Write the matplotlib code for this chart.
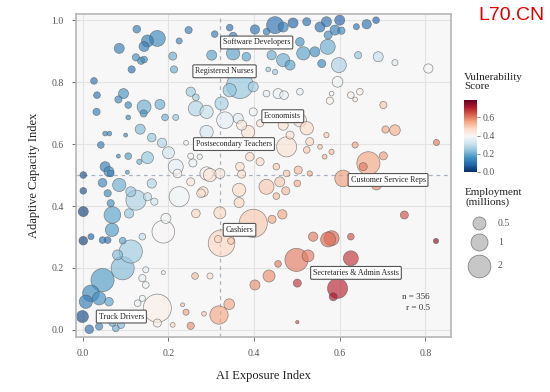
import matplotlib
matplotlib.use("Agg")
import matplotlib.pyplot as plt
import numpy as np

plt.rcParams['font.family'] = ['Liberation Serif', 'DejaVu Serif']

# AI exposure, adaptive capacity, employment (millions), vulnerability score
exposure = [
    0.126, 0.247, 0.174, 0.151, 0.143, 0.085, 0.225, 0.210, 0.124, 0.136, 0.143, 0.114, 0.213,
    0.026, 0.033, 0.095, 0.083, 0.106, 0.143, 0.142, 0.180, 0.032, 0.106, 0.192, 0.217, 0.252,
    0.264, 0.264, 0.052, 0.062, 0.100, 0.134, 0.161, 0.185, 0.042, 0.083, 0.106, 0.151, 0.132,
    0.200, 0.052, 0.065, 0.104, 0.001, 0.217, 0.252, 0.273, 0.241, 0.257,
    0.308, 0.343, 0.351, 0.402, 0.449, 0.491, 0.523, 0.554, 0.468, 0.429, 0.507, 0.301, 0.351,
    0.382, 0.441, 0.468, 0.484, 0.515, 0.542, 0.558, 0.433, 0.449, 0.367, 0.343, 0.398, 0.429,
    0.456, 0.470, 0.507, 0.324, 0.289, 0.332, 0.363, 0.398, 0.289, 0.371, 0.386, 0.414, 0.468,
    0.507, 0.523, 0.484, 0.476, 0.530, 0.523, 0.554, 0.565, 0.390, 0.414, 0.367, 0.320, 0.289,
    0.452, 0.503, 0.530, 0.476,
    0.600, 0.569, 0.589, 0.573, 0.604, 0.639, 0.663, 0.685, 0.572, 0.643, 0.690, 0.729, 0.807,
    0.598, 0.595, 0.581, 0.577, 0.626, 0.636, 0.647, 0.702, 0.707, 0.729, 0.826, 0.636, 0.569,
    0.581, 0.667, 0.702, 0.655, 0.608,
    0.001, 0.001, 0.001, 0.019, 0.046, 0.058, 0.061, 0.085, 0.046, 0.058, 0.065, 0.069, 0.068,
    0.108, 0.124, 0.112, 0.151, 0.167, 0.161, 0.093, 0.112, 0.139, 0.081, 0.093, 0.046, 0.019,
    0.038, 0.007, 0.061, -0.001, 0.015, 0.038, 0.077, 0.089, 0.069, 0.147, 0.139, 0.147, 0.128,
    0.139, 0.120, 0.174, 0.174, 0.188, 0.210, 0.233, 0.241, 0.252, 0.262, 0.225, 0.188, 0.194,
    0.264, 0.276, 0.252, 0.221,
    0.297, 0.281, 0.365, 0.365, 0.371, 0.429, 0.460, 0.474, 0.452, 0.501, 0.320, 0.398, 0.442,
    0.466, 0.324, 0.316, 0.346, 0.538, 0.573, 0.499, 0.526, 0.456, 0.435, 0.402, 0.501, 0.297,
    0.342, 0.318, 0.283, 0.501,
    0.686, 0.751, 0.825, 0.581, 0.626, 0.626, 0.595, 0.585,
]
capacity = [
    0.971, 0.968, 0.941, 0.933, 0.915, 0.909, 0.933, 0.884, 0.880, 0.869, 0.873, 0.841, 0.841,
    0.804, 0.758, 0.763, 0.744, 0.726, 0.720, 0.699, 0.728, 0.704, 0.686, 0.686, 0.686, 0.769,
    0.751, 0.715, 0.634, 0.634, 0.629, 0.648, 0.621, 0.604, 0.597, 0.561, 0.561, 0.556, 0.543,
    0.572, 0.527, 0.505, 0.509, 0.500, 0.527, 0.561, 0.559, 0.604, 0.539,
    0.955, 0.976, 0.948, 0.970, 0.984, 0.991, 0.995, 0.978, 0.978, 0.963, 0.930, 0.887, 0.893,
    0.882, 0.887, 0.871, 0.855, 0.893, 0.898, 0.860, 0.841, 0.833, 0.790, 0.774, 0.785, 0.763,
    0.763, 0.758, 0.769, 0.731, 0.704, 0.677, 0.683, 0.704, 0.639, 0.661, 0.639, 0.667, 0.661,
    0.677, 0.651, 0.629, 0.591, 0.608, 0.581, 0.591, 0.559, 0.559, 0.543, 0.527, 0.505, 0.505,
    0.527, 0.516, 0.505, 0.505,
    1.000, 0.995, 0.968, 0.952, 0.966, 0.979, 0.987, 1.000, 0.914, 0.887, 0.882, 0.863, 0.844,
    0.855, 0.801, 0.763, 0.740, 0.758, 0.744, 0.769, 0.726, 0.647, 0.645, 0.605, 0.597, 0.629,
    0.575, 0.538, 0.562, 0.527, 0.489,
    0.449, 0.382, 0.288, 0.301, 0.290, 0.290, 0.511, 0.468, 0.475, 0.441, 0.409, 0.371, 0.323,
    0.376, 0.419, 0.446, 0.430, 0.414, 0.473, 0.288, 0.253, 0.301, 0.242, 0.199, 0.161, 0.118,
    0.102, 0.091, 0.091, 0.043, 0.002, 0.011, 0.005, 0.016, 0.022, 0.194, 0.167, 0.145, 0.086,
    0.102, 0.054, 0.070, 0.022, 0.185, 0.016, 0.081, 0.057, 0.013, 0.174, 0.430, 0.317, 0.360,
    0.376, 0.441, 0.478, 0.505,
    0.500, 0.446, 0.452, 0.411, 0.503, 0.462, 0.478, 0.449, 0.432, 0.473, 0.378, 0.344, 0.357,
    0.373, 0.280, 0.293, 0.287, 0.301, 0.292, 0.226, 0.239, 0.213, 0.174, 0.145, 0.151, 0.174,
    0.083, 0.048, 0.052, 0.025,
    0.468, 0.371, 0.287, 0.296, 0.301, 0.231, 0.134, 0.107,
]
employment = [
    0.10, 0.08, 0.85, 0.40, 0.24, 0.24, 0.04, 0.12, 0.08, 0.08, 0.06, 0.08, 0.08,
    0.06, 0.06, 0.24, 0.08, 0.06, 0.60, 0.08, 0.24, 0.08, 0.01, 0.06, 0.04, 0.19,
    0.06, 0.73, 0.01, 0.01, 0.002, 0.24, 0.15, 0.19, 0.06, 0.002, 0.06, 0.40, 0.02,
    0.40, 0.24, 0.06, 0.002, 0.06, 0.73, 0.04, 0.02, 0.01, 0.12,
    0.06, 0.06, 0.12, 0.19, 1.00, 0.24, 0.12, 0.24, 0.24, 0.06, 0.15, 0.24, 0.53,
    0.15, 0.19, 0.53, 0.24, 0.53, 0.24, 0.12, 0.01, 0.02, 2.90, 0.53, 0.24, 0.06,
    0.24, 0.15, 0.06, 0.53, 0.53, 0.95, 0.24, 0.12, 0.53, 0.24, 0.53, 0.08, 0.24,
    0.53, 0.53, 0.12, 1.50, 0.12, 0.06, 0.01, 0.01, 0.15, 0.12, 0.15, 0.24, 0.53,
    0.06, 0.12, 0.02, 0.06,
    0.24, 0.24, 0.24, 0.12, 0.08, 0.04, 0.19, 0.06, 0.73, 0.08, 0.24, 0.04, 0.19,
    0.73, 0.29, 0.01, 0.08, 0.06, 0.01, 0.06, 0.08, 0.08, 0.29, 0.04, 0.04, 0.02,
    0.02, 2.10, 0.12, 0.12, 0.95,
    0.06, 0.24, 0.15, 0.04, 0.06, 0.06, 0.24, 0.53, 0.15, 0.08, 0.08, 0.95, 0.53,
    0.19, 1.50, 0.24, 0.12, 0.08, 0.19, 0.06, 2.10, 0.06, 0.24, 2.10, 2.10, 0.95,
    0.53, 0.53, 0.15, 0.40, 0.15, 0.08, 0.06, 0.08, 0.06, 0.04, 0.08, 0.06, 0.06,
    0.04, 0.02, 3.30, 0.12, 0.002, 0.01, 0.002, 0.04, 0.08, 0.06, 1.50, 2.00, 0.24,
    0.15, 0.15, 0.12, 0.15,
    0.53, 0.24, 0.53, 0.24, 0.12, 0.73, 0.24, 0.12, 0.06, 0.06, 0.40, 3.30, 0.12,
    0.19, 2.90, 0.08, 0.06, 0.19, 0.73, 2.10, 0.40, 0.06, 0.40, 0.24, 0.12, 0.04,
    0.29, 1.20, 0.01, 0.00,
    0.24, 0.12, 0.02, 0.73, 0.06, 0.73, 1.50, 0.12,
]
vulnerability = [
    0.12, 0.12, 0.14, 0.12, 0.12, 0.12, 0.13, 0.20, 0.15, 0.15, 0.14, 0.10, 0.20,
    0.10, 0.10, 0.16, 0.14, 0.14, 0.20, 0.15, 0.20, 0.12, 0.14, 0.20, 0.24, 0.25,
    0.25, 0.28, 0.14, 0.14, 0.14, 0.22, 0.24, 0.28, 0.12, 0.14, 0.17, 0.24, 0.20,
    0.32, 0.12, 0.13, 0.17, 0.05, 0.36, 0.38, 0.38, 0.38, 0.37,
    0.12, 0.10, 0.12, 0.10, 0.10, 0.08, 0.10, 0.10, 0.12, 0.12, 0.16, 0.18, 0.18,
    0.18, 0.20, 0.20, 0.18, 0.18, 0.15, 0.14, 0.25, 0.25, 0.24, 0.24, 0.26, 0.36,
    0.37, 0.37, 0.36, 0.26, 0.30, 0.36, 0.35, 0.38, 0.33, 0.44, 0.45, 0.44, 0.45,
    0.45, 0.47, 0.46, 0.45, 0.48, 0.50, 0.50, 0.52, 0.47, 0.47, 0.46, 0.44, 0.40,
    0.50, 0.52, 0.54, 0.50,
    0.08, 0.10, 0.12, 0.15, 0.14, 0.10, 0.10, 0.08, 0.20, 0.24, 0.30, 0.35, 0.40,
    0.27, 0.38, 0.40, 0.42, 0.42, 0.43, 0.42, 0.50, 0.55, 0.54, 0.60, 0.55, 0.50,
    0.52, 0.55, 0.56, 0.60, 0.56,
    0.05, 0.03, 0.03, 0.08, 0.10, 0.10, 0.14, 0.20, 0.14, 0.14, 0.15, 0.18, 0.17,
    0.24, 0.27, 0.24, 0.30, 0.32, 0.28, 0.18, 0.25, 0.30, 0.22, 0.22, 0.17, 0.14,
    0.15, 0.12, 0.18, 0.04, 0.10, 0.14, 0.20, 0.22, 0.20, 0.36, 0.36, 0.38, 0.36,
    0.38, 0.36, 0.42, 0.42, 0.42, 0.48, 0.50, 0.55, 0.58, 0.52, 0.38, 0.40, 0.38,
    0.48, 0.46, 0.44, 0.41,
    0.45, 0.46, 0.47, 0.48, 0.46, 0.50, 0.50, 0.52, 0.52, 0.54, 0.48, 0.50, 0.55,
    0.55, 0.48, 0.48, 0.50, 0.60, 0.62, 0.60, 0.60, 0.60, 0.58, 0.58, 0.68, 0.45,
    0.55, 0.55, 0.50, 0.65,
    0.58, 0.65, 0.75, 0.62, 0.65, 0.68, 0.70, 0.72,
]

label_names = ["Software Developers", "Registered Nurses", "Economists",
               "Postsecondary Teachers", "Customer Service Reps", "Cashiers",
               "Secretaries & Admin Assts", "Truck Drivers"]
label_x = [0.406, 0.331, 0.467, 0.353, 0.713, 0.366, 0.638, 0.090]
label_y = [0.928, 0.835, 0.690, 0.600, 0.484, 0.323, 0.184, 0.043]

legend_sizes = [0.5, 1, 2]
n_obs = 356
r_value = 0.5


def bubble_size(emp):
    # diameter in px grows with sqrt(employment), converted to points^2
    d = 3.35 + 13.65 * np.sqrt(np.asarray(emp, dtype=float))
    return (d * 0.72) ** 2


fig = plt.figure(figsize=(5.5, 3.92), dpi=100)
ax = fig.add_axes([76 / 550, 1 - 337 / 392, 375 / 550, 323 / 392])
ax.set_facecolor('#f7f7f7')
for sp in ax.spines.values():
    sp.set_color('#b5b5b5')
    sp.set_linewidth(1.2)
ax.grid(True, color='#e3e3e3', linewidth=0.8)
ax.set_axisbelow(True)

ex = np.array(exposure)
ca = np.array(capacity)
em = np.array(employment)
vu = np.array(vulnerability)
order = np.argsort(-em)

ax.axvline(0.32, color='#a9b3c2', linestyle=(0, (3, 3)), linewidth=0.9, zorder=1)
ax.axhline(0.5, color='#a9b3c2', linestyle=(0, (3, 3)), linewidth=0.9, zorder=1)

sc = ax.scatter(ex[order], ca[order], s=bubble_size(em[order]), c=vu[order],
                cmap='RdBu_r', vmin=0, vmax=0.79, alpha=0.65,
                edgecolors='#555555', linewidths=0.5, zorder=2)

for name, lx, ly in zip(label_names, label_x, label_y):
    ax.text(lx, ly, name, fontsize=5.8, ha='center', va='center', color='#222222',
            zorder=5,
            bbox=dict(boxstyle='round,pad=0.3,rounding_size=0.15', fc='white',
                      ec='#555555', lw=0.8))

ax.text(0.81, 0.105, f"n = {n_obs}", fontsize=6.5, ha='right', va='center', color='#333333')
ax.text(0.81, 0.07, f"r = {r_value}", fontsize=6.5, ha='right', va='center', color='#333333')

ax.set_xlim(-0.016, 0.86)
ax.set_ylim(-0.023, 1.02)
ax.set_xticks([0, 0.2, 0.4, 0.6, 0.8])
ax.set_yticks([0, 0.2, 0.4, 0.6, 0.8, 1.0])
ax.set_xticklabels(['0.0', '0.2', '0.4', '0.6', '0.8'])
ax.set_yticklabels(['0.0', '0.2', '0.4', '0.6', '0.8', '1.0'])
ax.tick_params(labelsize=7, colors='#555555', length=3, width=0.6, pad=6)
ax.set_xlabel('AI Exposure Index', fontsize=9, color='#222222', labelpad=8)
ax.set_ylabel('Adaptive Capacity Index', fontsize=9, color='#222222', labelpad=8)

# colour bar
cax = fig.add_axes([464 / 550, 1 - 172 / 392, 13 / 550, 72 / 392])
cb = fig.colorbar(sc, cax=cax, ticks=[0, 0.2, 0.4, 0.6])
cb.solids.set_alpha(1)
cb.outline.set_visible(False)
cb.ax.tick_params(labelsize=7, colors='#555555', length=2, width=0.5, pad=2)
cb.ax.set_yticklabels(['0.0', '0.2', '0.4', '0.6'])
fig.text(464 / 550, 1 - 73 / 392, 'Vulnerability\nScore', fontsize=8, va='top',
         ha='left', color='#222222', linespacing=1.0)

# size legend drawn on an overlay in pixel units
lax = fig.add_axes([0, 0, 1, 1], facecolor='none')
lax.set_xlim(0, 550)
lax.set_ylim(392, 0)
lax.axis('off')
fig.text(465 / 550, 1 - 188 / 392, 'Employment\n(millions)', fontsize=8, va='top',
         ha='left', color='#222222', linespacing=1.0)
for val, yy in zip(legend_sizes, [223, 242, 266]):
    lax.scatter([479], [yy], s=bubble_size([val]), color='#bdbdbd', alpha=0.85,
                edgecolors='#777777', linewidths=0.6)
    lax.text(498, yy, str(val), fontsize=7, va='center', ha='left', color='#555555')

fig.text(545 / 550, 1 - 15 / 392, 'L70.CN', fontsize=14, color='#e00000',
         ha='right', va='center', family=['Liberation Sans', 'DejaVu Sans'])

fig.savefig('out.png', dpi=100)
